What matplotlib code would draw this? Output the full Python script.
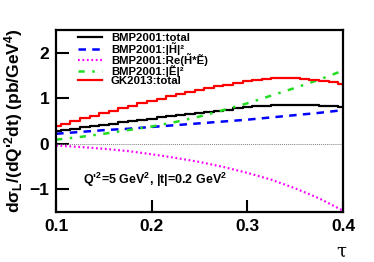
import numpy as np
import matplotlib
matplotlib.use("Agg")
import matplotlib.pyplot as plt

plt.rcParams["font.family"] = "Liberation Sans"
plt.rcParams["mathtext.fontset"] = "custom"
plt.rcParams["mathtext.rm"] = "Liberation Sans:bold"
plt.rcParams["mathtext.bf"] = "Liberation Sans:bold"
plt.rcParams["mathtext.it"] = "Liberation Sans:bold"
plt.rcParams["mathtext.default"] = "bf"

# fine grid for the stepped curves
tau_fine = np.round(np.arange(0.10, 0.4001, 0.01), 3)
gk_total = [0.38, 0.44, 0.50, 0.56, 0.62, 0.68, 0.73, 0.79, 0.84, 0.89,
            0.94, 0.99, 1.04, 1.09, 1.13, 1.18, 1.22, 1.26, 1.30, 1.34,
            1.37, 1.40, 1.42, 1.44, 1.45, 1.44, 1.43, 1.41, 1.38, 1.35, 1.32]
bmp_total = [0.28, 0.31, 0.33, 0.36, 0.39, 0.42, 0.44, 0.47, 0.50, 0.52,
             0.55, 0.58, 0.60, 0.63, 0.65, 0.68, 0.70, 0.73, 0.75, 0.78,
             0.80, 0.82, 0.84, 0.85, 0.86, 0.86, 0.86, 0.85, 0.84, 0.82, 0.80]

# coarser grid for the smooth curves
tau = [0.1, 0.125, 0.15, 0.175, 0.2, 0.225, 0.25, 0.275, 0.3, 0.325, 0.35, 0.375, 0.4]
bmp_h2 = [0.22, 0.26, 0.30, 0.33, 0.37, 0.41, 0.45, 0.49, 0.53, 0.58, 0.63, 0.68, 0.74]
bmp_re = [-0.04, -0.07, -0.11, -0.16, -0.23, -0.31, -0.40, -0.51, -0.64, -0.79, -0.98, -1.20, -1.47]
bmp_e2 = [0.09, 0.15, 0.22, 0.30, 0.38, 0.48, 0.60, 0.74, 0.89, 1.06, 1.23, 1.41, 1.61]

labels = ["BMP2001:total", "BMP2001:|H\u0303|\u00b2", "BMP2001:Re(H\u0303*\u1ebc)",
          "BMP2001:|\u1ebc|\u00b2", "GK2013:total"]

fig = plt.figure(figsize=(3.74, 2.62), dpi=100)
ax = fig.add_axes([0.150, 0.191, 0.767, 0.694])

ax.axhline(0, color="gray", lw=0.7, ls=(0, (1, 1)))

ax.plot(tau_fine, bmp_total, color="black", lw=1.6, drawstyle="steps-mid",
        label=labels[0])
ax.plot(tau, bmp_h2, color="blue", lw=1.8, ls=(0, (3, 2.5)), label=labels[1])
ax.plot(tau, bmp_re, color="magenta", lw=1.6, ls=(0, (0.8, 1.2)), label=labels[2])
ax.plot(tau, bmp_e2, color="#22dd22", lw=1.8, ls=(0, (2.5, 3, 1, 3)), label=labels[3])
ax.plot(tau_fine, gk_total, color="red", lw=1.6, drawstyle="steps-mid",
        label=labels[4])

ax.set_xlim(0.1, 0.4)
ax.set_ylim(-1.5, 2.5)
ax.set_xticks([0.1, 0.2, 0.3, 0.4])
ax.set_xticklabels(["0.1", "0.2", "0.3", "0.4"])
ax.set_yticks([-1, 0, 1, 2])
ax.tick_params(direction="in", length=9, width=1.5, labelsize=12.5, pad=5)
for lab in ax.get_xticklabels() + ax.get_yticklabels():
    lab.set_fontweight("bold")
for sp in ax.spines.values():
    sp.set_linewidth(1.6)

ax.set_ylabel("dσ$_L$/(dQ$'^2$dt) (pb/GeV$^4$)", fontsize=12.5,
              fontweight="bold", labelpad=3)
fig.text(0.90, 0.02, "τ", fontsize=13, family="DejaVu Serif")

ax.text(0.095, 0.175, "Q$'^2$=5 GeV$^2$, |t|=0.2 GeV$^2$", transform=ax.transAxes,
        fontsize=9, fontweight="bold", va="center")

leg = ax.legend(loc="upper left", bbox_to_anchor=(0.06, 1.01), frameon=False,
                fontsize=8.2, handlelength=2.1, labelspacing=-0.1,
                handletextpad=0.8, borderaxespad=0.0)
for t in leg.get_texts():
    t.set_fontweight("bold")

fig.savefig("out.png", dpi=100)
